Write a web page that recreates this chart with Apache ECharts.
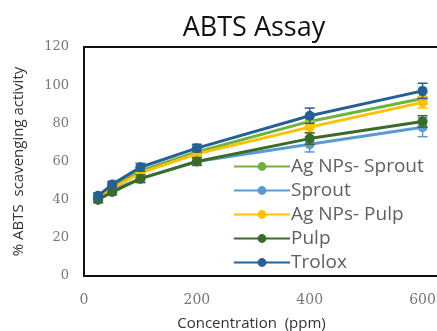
<!DOCTYPE html>
<html>
<head>
<meta charset="utf-8">
<script src="https://cdn.jsdelivr.net/npm/echarts@6/dist/echarts.min.js"></script>
<style>
html,body{margin:0;padding:0;background:#fff;}
#main{width:437px;height:331px;}
</style>
</head>
<body>
<div id="main"></div>
<script>
// concentrations (ppm)
var conc = [25, 50, 100, 200, 400, 600];
var names = ['Ag NPs- Sprout', 'Sprout', 'Ag NPs- Pulp', 'Pulp', 'Trolox'];
var colors = ['#6db33f', '#5b9bd5', '#ffc000', '#3b6b2b', '#245f96'];
// % activity
var agSprout = [41, 47, 55, 65, 81, 93];
var sprout = [40, 45, 51, 60, 69, 78];
var agPulp = [41, 46, 54, 64, 78, 91];
var pulp = [40, 44, 51, 60, 72, 81];
var trolox = [42, 48, 57, 67, 84, 97];
// error (+/-)
var errAgSprout = [1.5, 1.5, 2, 2, 2.5, 3];
var errSprout = [1.5, 1.5, 2, 2, 4, 5];
var errAgPulp = [1.5, 1.5, 2, 2, 3, 3];
var errPulp = [1.5, 1.5, 2, 2, 3, 3];
var errTrolox = [1.5, 1.5, 2, 2, 4, 4];
var xTicks = [0, 200, 400, 600];
var yTicks = [0, 20, 40, 60, 80, 100, 120];

var vals = [agSprout, sprout, agPulp, pulp, trolox];
var errs = [errAgSprout, errSprout, errAgPulp, errPulp, errTrolox];

var myChart = echarts.init(document.getElementById('main'));
var series = [];
for (var i = 0; i < names.length; i++) {
	var pts = [];
	var ebar = [];
	for (var j = 0; j < conc.length; j++) {
		pts.push([conc[j], vals[i][j]]);
		ebar.push([conc[j], vals[i][j] - errs[i][j], vals[i][j] + errs[i][j]]);
	}
	(function(col){
		series.push({
			type: 'custom',
			name: 'err' + i,
			z: 3 + i,
			data: ebar,
			renderItem: function(params, api){
				var lo = api.coord([api.value(0), api.value(1)]);
				var hi = api.coord([api.value(0), api.value(2)]);
				var w = 5;
				var st = {stroke: col, lineWidth: 1.5};
				return {type: 'group', children: [
					{type: 'line', shape: {x1: lo[0], y1: lo[1], x2: hi[0], y2: hi[1]}, style: st},
					{type: 'line', shape: {x1: lo[0]-w, y1: lo[1], x2: lo[0]+w, y2: lo[1]}, style: st},
					{type: 'line', shape: {x1: hi[0]-w, y1: hi[1], x2: hi[0]+w, y2: hi[1]}, style: st}
				]};
			}
		});
	})(colors[i]);
	series.push({
		type: 'line',
		name: names[i],
		z: 3 + i,
		data: pts,
		symbol: 'circle',
		symbolSize: 10,
		lineStyle: {width: 3, color: colors[i]},
		itemStyle: {color: colors[i]}
	});
}

myChart.setOption({
	animation: false,
	title: {
		text: 'ABTS Assay',
		left: 249,
		top: 10,
		textAlign: 'center',
		textStyle: {fontFamily: 'Open Sans', fontSize: 27, fontWeight: 'normal', color: '#111'}
	},
	legend: {
		data: names,
		orient: 'vertical',
		left: 228,
		top: 152,
		itemGap: 5,
		itemWidth: 56,
		itemHeight: 11,
		textStyle: {fontFamily: 'Open Sans', fontSize: 19, color: '#606060', padding: [0, 0, 0, -4]}
	},
	grid: {left: 84, top: 47, width: 395, height: 229, outerBoundsMode: 'none', show: true, borderColor: '#111', borderWidth: 2},
	xAxis: {
		type: 'value',
		min: 0,
		max: 700,
		interval: 200,
		name: 'Concentration  (ppm)',
		nameLocation: 'middle',
		nameGap: 40,
		nameTextStyle: {fontFamily: 'Open Sans', fontSize: 15, color: '#333', padding: [0, 0, 0, -60]},
		axisLine: {lineStyle: {color: '#111', width: 2}},
		axisTick: {show: false},
		splitLine: {show: false},
		axisLabel: {fontFamily: 'DejaVu Serif', fontSize: 14, color: '#777', margin: 17,
			formatter: function(v){ return xTicks.indexOf(v) >= 0 ? String(v) : ''; }}
	},
	yAxis: {
		type: 'value',
		min: 0,
		max: 120,
		interval: 20,
		name: '% ABTS  scavenging activity',
		nameLocation: 'middle',
		nameGap: 58,
		nameTextStyle: {fontFamily: 'Open Sans', fontSize: 15, color: '#333'},
		axisLine: {show: true, lineStyle: {color: '#111', width: 2}},
		axisTick: {show: false},
		splitLine: {show: false},
		axisLabel: {fontFamily: 'DejaVu Serif', fontSize: 13, color: '#777', margin: 15,
			formatter: function(v){ return yTicks.indexOf(v) >= 0 ? String(v) : ''; }}
	},
	series: series
});
</script>
</body>
</html>
